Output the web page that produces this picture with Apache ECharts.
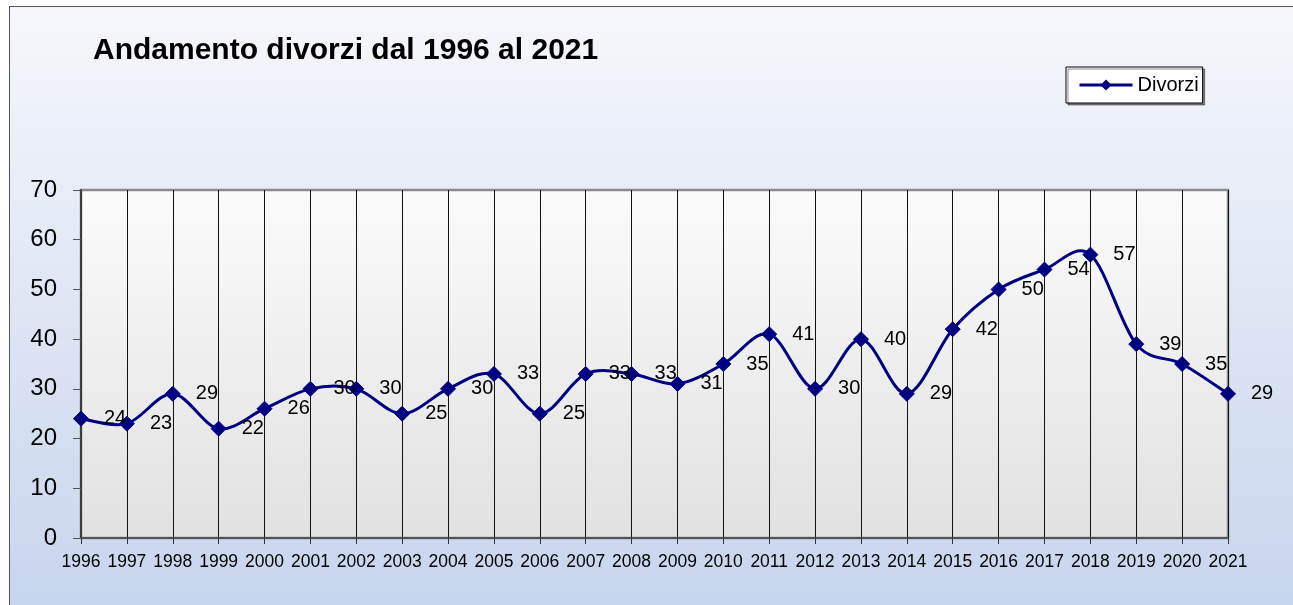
<!DOCTYPE html>
<html>
<head>
<meta charset="utf-8">
<title>Andamento divorzi dal 1996 al 2021</title>
<script src="https://cdn.jsdelivr.net/npm/echarts@6/dist/echarts.min.js"></script>
<style>
  html, body { margin: 0; padding: 0; background: #ffffff; overflow: hidden; }
  #frame {
    position: absolute; left: 9px; top: 6px; width: 1300px; height: 620px;
    border-left: 1.5px solid #555555; border-top: 1.5px solid #555555;
    background: linear-gradient(#f6f7fb, #c5d4ed);
  }
  #chart { position: absolute; left: 0; top: 0; width: 1293px; height: 605px; }
</style>
</head>
<body>
<div id="frame"></div>
<div id="chart"></div>
<script>
// Years on the category axis
const years = ['1996', '1997', '1998', '1999', '2000', '2001', '2002', '2003', '2004',
  '2005', '2006', '2007', '2008', '2009', '2010', '2011', '2012', '2013', '2014',
  '2015', '2016', '2017', '2018', '2019', '2020', '2021'];

// Number of divorces per year
const divorzi = [24, 23, 29, 22, 26, 30, 30, 25, 30, 33, 25, 33, 33, 31, 35, 41,
  30, 40, 29, 42, 50, 54, 57, 39, 35, 29];

// Value axis range and step
const yMin = 0;
const yMax = 70;
const yStep = 10;

const FONT = "'Liberation Sans', Arial, sans-serif";
const NAVY = '#000080';

// Smoothed segment i -> i+1 (cardinal spline, 1/6 tangent weight),
// with every point mapped through the chart's own axes.
function renderSegment(params, api) {
  const i = params.dataIndex;
  const n = divorzi.length;
  if (i >= n - 1) return null;
  const pt = (k) => {
    const c = Math.max(0, Math.min(n - 1, k));
    return api.coord([c, divorzi[c]]);
  };
  const p0 = pt(i - 1), p1 = pt(i), p2 = pt(i + 1), p3 = pt(i + 2);
  return {
    type: 'bezierCurve',
    shape: {
      x1: p1[0], y1: p1[1],
      x2: p2[0], y2: p2[1],
      cpx1: p1[0] + (p2[0] - p0[0]) / 6, cpy1: p1[1] + (p2[1] - p0[1]) / 6,
      cpx2: p2[0] - (p3[0] - p1[0]) / 6, cpy2: p2[1] - (p3[1] - p1[1]) / 6
    },
    style: { stroke: NAVY, lineWidth: 3, fill: null, lineJoin: 'round', lineCap: 'round' },
    silent: true
  };
}

const chart = echarts.init(document.getElementById('chart'), null, { renderer: 'canvas' });

chart.setOption({
  animation: false,
  backgroundColor: 'transparent',
  textStyle: { fontFamily: FONT, color: '#000' },
  title: {
    text: 'Andamento divorzi dal 1996 al 2021',
    left: 93,
    top: 36,
    padding: 0,
    textStyle: { fontFamily: FONT, fontSize: 30, fontWeight: 'bold', color: '#000' }
  },
  legend: {
    data: ['Divorzi'],
    left: 1066,
    top: 67,
    padding: [8, 4, 8, 12],
    itemWidth: 53,
    itemHeight: 14,
    itemGap: 6,
    backgroundColor: '#ffffff',
    borderColor: '#000000',
    borderWidth: 1,
    borderRadius: 0,
    shadowColor: 'rgba(0,0,0,0.45)',
    shadowOffsetX: 2,
    shadowOffsetY: 2,
    shadowBlur: 0,
    lineStyle: { color: NAVY, width: 3, opacity: 1 },
    textStyle: { fontFamily: FONT, fontSize: 20, color: '#000' }
  },
  grid: {
    left: 81,
    top: 190,
    right: 65,
    bottom: 67,
    show: true,
    borderColor: '#8c8c8c',
    borderWidth: 2.5,
    backgroundColor: {
      type: 'linear', x: 0, y: 0, x2: 0, y2: 1,
      colorStops: [
        { offset: 0, color: '#fbfbfb' },
        { offset: 1, color: '#e1e1e1' }
      ]
    }
  },
  xAxis: {
    type: 'category',
    data: years,
    boundaryGap: false,
    axisLine: { show: true, lineStyle: { color: '#555555', width: 2 } },
    axisTick: { show: true, length: 6, lineStyle: { color: '#333333', width: 1 } },
    axisLabel: { fontFamily: FONT, fontSize: 17.5, color: '#000', margin: 15, interval: 0 },
    splitLine: { show: true, lineStyle: { color: '#111111', width: 1 } }
  },
  yAxis: {
    type: 'value',
    min: yMin,
    max: yMax,
    interval: yStep,
    axisLine: { show: true, lineStyle: { color: '#3c3c3c', width: 2 } },
    axisTick: { show: true, length: 8, lineStyle: { color: '#555555', width: 1 } },
    axisLabel: { fontFamily: FONT, fontSize: 24, color: '#000', margin: 24 },
    splitLine: { show: false }
  },
  series: [
    {
      name: 'Divorzi (curva)',
      type: 'custom',
      z: 2,
      clip: false,
      data: divorzi.map((v, i) => [i, v]),
      renderItem: renderSegment,
      silent: true
    },
    {
      name: 'Divorzi',
      type: 'line',
      z: 3,
      data: divorzi,
      symbol: 'diamond',
      symbolSize: [15, 15],
      showAllSymbol: true,
      lineStyle: { color: NAVY, width: 3, opacity: 0 },
      itemStyle: { color: NAVY, borderColor: NAVY },
      label: {
        show: true,
        position: 'right',
        distance: 15,
        fontFamily: FONT,
        fontSize: 20,
        color: '#000'
      },
      emphasis: { disabled: true }
    }
  ]
});
</script>
</body>
</html>
